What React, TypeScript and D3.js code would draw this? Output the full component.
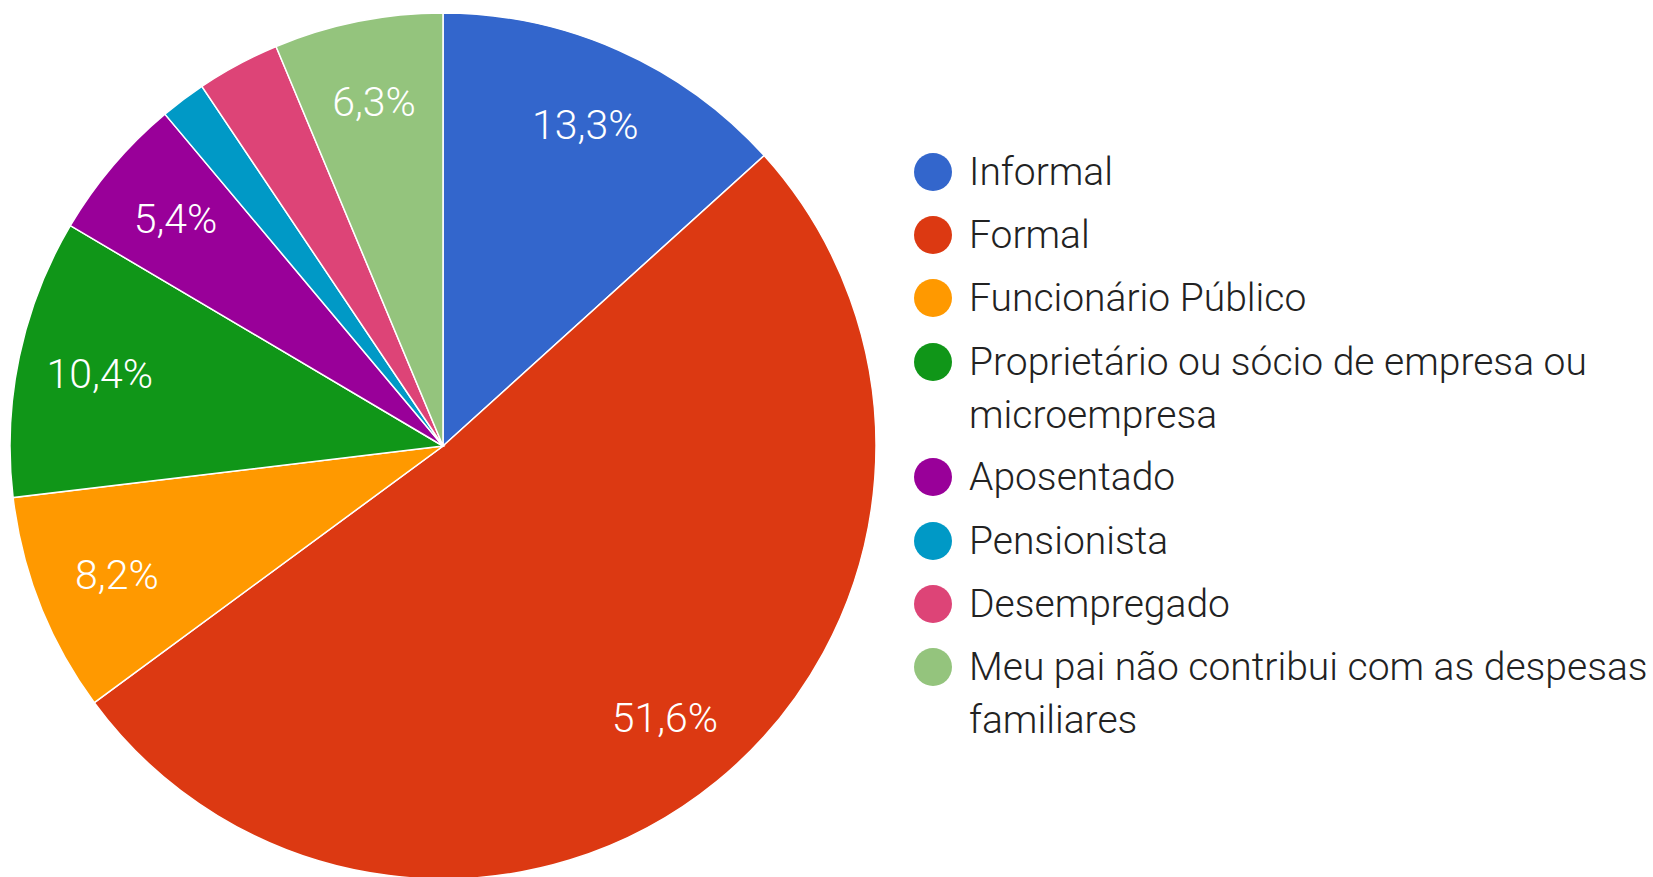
import * as d3 from "d3";
import React from "react";

// categorias e valores (%)
const categories = [
  "Informal",
  "Formal",
  "Funcionário Público",
  "Proprietário ou sócio de empresa ou microempresa",
  "Aposentado",
  "Pensionista",
  "Desempregado",
  "Meu pai não contribui com as despesas familiares",
];
const values = [13.3, 51.6, 8.2, 10.4, 5.4, 1.7, 3.1, 6.3];
const colors = [
  "#3366cc",
  "#dc3912",
  "#ff9900",
  "#109618",
  "#990099",
  "#0099c6",
  "#dd4477",
  "#94c47d",
];
// linhas da legenda (quebra como no original)
const legendLines = [
  ["Informal"],
  ["Formal"],
  ["Funcionário Público"],
  ["Proprietário ou sócio de empresa ou", "microempresa"],
  ["Aposentado"],
  ["Pensionista"],
  ["Desempregado"],
  ["Meu pai não contribui com as despesas", "familiares"],
];

const W = 1653;
const H = 877;

export default function App() {
  const ref = React.useRef<SVGSVGElement>(null);

  React.useEffect(() => {
    if (!ref.current) return;
    const svg = d3.select(ref.current);
    svg.selectAll("*").remove();

    const cx = 443;
    const cy = 446;
    const r = 433;
    const fontFamily = "Roboto, Arial, sans-serif";

    const pie = d3
      .pie<number>()
      .sort(null)
      .value((d) => d)
      .startAngle(0)
      .endAngle(2 * Math.PI);
    const arcs = pie(values);

    const arc = d3.arc<d3.PieArcDatum<number>>().innerRadius(0).outerRadius(r);
    const labelArc = d3
      .arc<d3.PieArcDatum<number>>()
      .innerRadius(r * 0.81)
      .outerRadius(r * 0.81);

    const g = svg.append("g").attr("transform", `translate(${cx},${cy})`);

    g.selectAll("path")
      .data(arcs)
      .enter()
      .append("path")
      .attr("d", arc)
      .attr("fill", (_, i) => colors[i])
      .attr("stroke", "#ffffff")
      .attr("stroke-width", 1.5);

    // rótulos das fatias (só as maiores)
    g.selectAll("text.lbl")
      .data(arcs.filter((a) => a.value >= 5))
      .enter()
      .append("text")
      .attr("class", "lbl")
      .attr("transform", (d) => `translate(${labelArc.centroid(d)})`)
      .attr("text-anchor", "middle")
      .attr("dominant-baseline", "central")
      .attr("fill", "#ffffff")
      .attr("font-family", fontFamily)
      .attr("font-weight", 300)
      .attr("font-size", 41)
      .text((d) => d.value.toFixed(1).replace(".", ",") + "%");

    // legenda
    const legendX = 933;
    const textX = 969;
    const itemY = [172, 235, 298, 362, 477, 541, 604, 667];
    const lineH = 53;

    const legend = svg.append("g");
    categories.forEach((c, i) => {
      const item = legend.append("g").attr("data-name", c);
      item
        .append("circle")
        .attr("cx", legendX)
        .attr("cy", itemY[i])
        .attr("r", 19)
        .attr("fill", colors[i]);
      const t = item
        .append("text")
        .attr("x", textX)
        .attr("y", itemY[i])
        .attr("dominant-baseline", "central")
        .attr("fill", "#222222")
        .attr("font-family", fontFamily)
        .attr("font-weight", 300)
        .attr("font-size", 39);
      legendLines[i].forEach((line, j) => {
        t.append("tspan")
          .attr("x", textX)
          .attr("y", itemY[i] + j * lineH)
          .text(line);
      });
    });
  }, []);

  return (
    <div style={{ position: "absolute", left: 0, top: 0, background: "#fff" }}>
      <svg ref={ref} width={W} height={H} style={{ display: "block" }} />
    </div>
  );
}
